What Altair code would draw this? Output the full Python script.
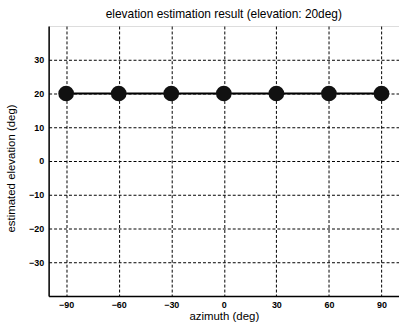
import altair as alt
import pandas as pd

# Estimated elevation for each true azimuth
azimuth = [-90, -60, -30, 0, 30, 60, 90]
elevation = [20, 20, 20, 20, 20, 20, 20]

x_ticks = [-90, -60, -30, 0, 30, 60, 90]
y_ticks = [-30, -20, -10, 0, 10, 20, 30]

df = pd.DataFrame({"azimuth": azimuth, "elevation": elevation})

FONT = "Liberation Sans"

x_enc = alt.X(
    "azimuth:Q",
    scale=alt.Scale(domain=[-100, 100], nice=False, zero=False),
    axis=alt.Axis(
        title="azimuth (deg)",
        values=x_ticks,
        grid=True,
        gridColor="black",
        gridDash=[3, 2],
        gridOpacity=1,
        gridWidth=1,
        domainColor="black",
        domainWidth=1.5,
        ticks=False,
        labelPadding=5,
        labelFont=FONT,
        labelFontSize=9,
        labelFontWeight="bold",
        labelColor="black",
        titleFont=FONT,
        titleFontSize=11.5,
        titleFontWeight="normal",
        titleColor="black",
        titlePadding=1,
    ),
)

y_enc = alt.Y(
    "elevation:Q",
    scale=alt.Scale(domain=[-40, 40], nice=False, zero=False),
    axis=alt.Axis(
        title="estimated elevation (deg)",
        values=y_ticks,
        grid=True,
        gridColor="black",
        gridDash=[3, 2],
        gridOpacity=1,
        gridWidth=1,
        domainColor="black",
        domainWidth=1.5,
        ticks=False,
        labelPadding=5,
        labelFont=FONT,
        labelFontSize=9,
        labelFontWeight="bold",
        labelColor="black",
        titleFont=FONT,
        titleFontSize=11.5,
        titleFontWeight="normal",
        titleColor="black",
        titlePadding=12,
        titleY=143,
    ),
)

line = alt.Chart(df).mark_line(color="black", strokeWidth=2).encode(x=x_enc, y=y_enc)
points = alt.Chart(df).mark_point(
    filled=True, color="#111111", size=250, opacity=1
).encode(x="azimuth:Q", y="elevation:Q")

chart = (
    alt.layer(line, points)
    .properties(
        width=353,
        height=272,
        title=alt.TitleParams(
            "elevation estimation result (elevation: 20deg)",
            font=FONT,
            fontSize=12,
            fontWeight="normal",
            color="black",
            offset=5,
        ),
        autosize=alt.AutoSizeParams(type="none"),
        padding={"left": 49, "top": 25, "right": 0, "bottom": 28},
    )
    .configure_view(stroke="black", strokeWidth=1.5)
    .configure(background="white")
)

chart.save("out.html", embed_options={"renderer": "svg", "actions": False})
